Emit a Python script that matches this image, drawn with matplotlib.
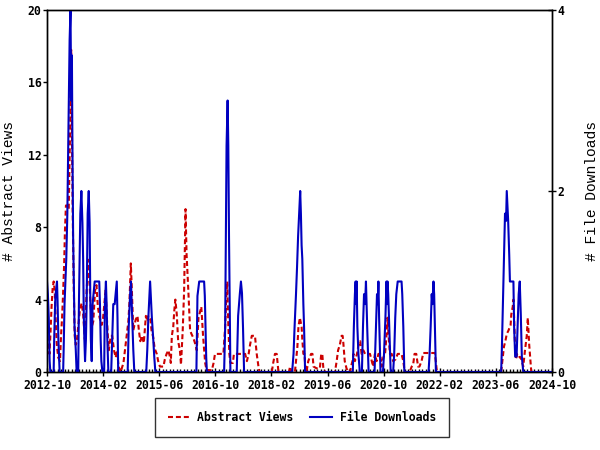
import matplotlib
matplotlib.use("Agg")
import matplotlib.pyplot as plt
from matplotlib.ticker import MultipleLocator

# x values are months counted from 2012-10
tick_labels = ["2012-10", "2014-02", "2015-06", "2016-10", "2018-02",
               "2019-06", "2020-10", "2022-02", "2023-06", "2024-10"]

view_month = [0, 0.4, 0.7, 1.0, 1.3, 1.6, 1.9, 2.2, 2.5, 2.8, 3.2, 3.7, 4.0, 4.3, 4.6, 4.9,
              5.1, 5.4, 5.8, 6.2, 6.6, 6.9, 7.1, 7.3, 7.6, 7.9, 8.2, 8.5,
              8.9, 9.4, 9.9, 10.3, 10.8, 11.3, 11.8, 12.1, 12.4, 12.8, 13.2, 13.7, 14.1,
              14.5, 15.0, 15.6, 16.0, 16.7, 17.2, 17.6, 18.2, 18.6, 19.1, 19.6, 20.0,
              20.4, 21.0, 21.8, 22.4, 22.9, 23.2, 23.5, 23.9, 24.2, 24.6, 25.3, 25.8,
              26.2, 26.6, 27.1,
              27.6, 28.2, 28.6, 28.9, 29.5, 29.8, 30.3, 30.7, 31.3, 31.7, 32.2, 33.2,
              33.6, 34.1, 34.6, 35.1, 35.3, 35.6, 36.0, 36.3, 36.6, 37.0, 37.4, 37.9,
              38.2, 38.7, 39.1, 39.5, 39.8, 40.3, 40.8, 41.2, 41.7, 42.2, 42.7, 43.2,
              44.0, 44.5, 45.1, 45.5, 47.0, 47.5, 47.9,
              48.8, 50.3, 50.8, 51.1, 51.4, 51.7, 52.0, 52.3, 53.0, 53.3, 56.5, 57.0,
              57.5, 57.9, 58.4, 59.3, 59.8, 60.3, 60.6, 64.1, 64.5, 65.0, 65.5, 66.0,
              69.0, 69.3, 69.7, 70.7, 71.0, 71.4, 71.7, 72.1, 72.6, 72.8, 73.1, 73.4,
              73.7, 74.0, 74.5, 75.3, 75.7, 76.0, 76.9, 77.8, 78.2, 78.5, 78.8, 79.3,
              82.1, 82.6, 83.0, 83.5, 84.0, 84.3, 84.5, 84.9, 85.4, 85.9, 86.4, 86.7,
              87.1, 87.4, 87.8, 88.4, 88.9, 89.3, 89.7, 90.2, 90.7, 91.5, 92.1, 93.0,
              93.5, 94.0, 94.5, 95.0,
              95.4, 95.9, 96.4, 96.8, 97.1, 97.4, 97.8, 98.3, 98.7, 99.4, 100.0, 101.1,
              101.6, 102.0, 103.4, 104.0, 104.4, 104.8, 105.3, 105.8, 106.2, 106.8,
              107.3, 110.6, 110.9, 111.2, 129.5,
              129.9, 130.3, 130.8, 131.1, 131.6, 132.2, 132.4, 132.8, 133.0, 133.2,
              133.4, 133.7, 134.1, 134.4, 134.8, 135.1, 135.4, 135.8, 136.3, 136.8,
              137.1, 137.5, 137.9, 138.1, 144]
views = [2.0, 1.5, 1.0, 2.2, 3.6, 4.6, 5.0, 4.5, 2.8, 1.5, 0.8, 0.6, 2.0, 3.0, 4.4, 6.0,
         7.7, 9.2, 9.2, 9.0, 13.5, 17.8, 13.5, 9.2, 5.0, 2.0, 1.5, 1.7,
         2.5, 3.5, 3.8, 3.2, 1.8, 4.5, 6.2, 5.0, 3.8, 2.5, 2.8, 4.5, 4.8,
         3.6, 3.0, 2.6, 3.0, 4.5, 2.5, 1.2, 2.0, 2.0, 1.2, 0.8, 1.2,
         0.3, 0, 0.5, 1.5, 2.3, 2.8, 3.8, 6.0, 4.5, 2.3, 2.9, 3.1,
         2.3, 1.7, 2.0,
         1.6, 3.1, 2.8, 3.1, 2.9, 2.3, 1.9, 1.3, 1.0, 0.6, 0.3, 0.3,
         0.7, 1.0, 1.2, 0.8, 0.5, 2.0, 2.5, 3.4, 4.0, 3.2, 1.7, 1.2,
         0.4, 2.3, 4.5, 9.0, 6.5, 4.5, 2.3, 2.1, 1.9, 1.6, 1.2, 3.0,
         3.6, 2.0, 0.5, 0.1, 0.1, 0.5, 1.0,
         1.0, 1.0, 2.5, 4.0, 5.0, 2.6, 1.0, 0.5, 0.5, 1.0, 1.0, 0.6,
         1.0, 1.5, 2.0, 2.0, 1.0, 0.3, 0, 0, 0.5, 1.0, 1.0, 0,
         0, 0.3, 0, 0, 0.6, 1.4, 2.5, 3.0, 2.5, 1.8, 1.0, 1.0,
         0.2, 0, 0.6, 1.0, 1.0, 0.3, 0.2, 0.2, 1.0, 1.0, 0.2, 0,
         0, 0.6, 1.2, 1.5, 2.0, 2.0, 1.6, 0.6, 0.2, 0, 0, 0.3,
         0.6, 1.0, 0.6, 1.0, 1.6, 1.7, 1.0, 1.2, 1.0, 1.0, 1.0, 0.3,
         1.0, 0.6, 1.0, 1.0,
         0.3, 0.8, 1.0, 2.0, 3.0, 2.0, 1.0, 1.0, 0.6, 0.7, 1.0, 1.0,
         0.6, 0, 0, 0.3, 0.4, 1.0, 1.0, 0.3, 0.3, 0.6,
         1.05, 1.05, 0.5, 0, 0,
         0.7, 1.4, 1.8, 2.1, 2.3, 2.6, 3.2, 3.6, 4.0, 3.0,
         1.8, 0.7, 1.0, 1.0, 0.8, 0.8, 0.6, 0.3, 1.2, 2.0,
         3.0, 1.5, 0.5, 0, 0]

dl_month = [0, 0.25, 0.5, 0.75, 0.95, 1.9, 2.05, 2.2, 2.4, 2.85, 3.0, 3.1, 3.25, 3.5,
            3.6, 4.6, 4.75, 5.0, 5.5, 5.8, 6.0, 6.25, 6.45, 6.7, 6.9, 7.1, 7.25, 7.45,
            7.85, 8.2, 8.45,
            8.9, 9.1, 9.5, 9.8, 10.1, 10.3, 10.5, 10.65, 10.85, 11.1, 11.3, 11.6, 11.9,
            12.15, 12.35, 12.5, 12.75, 13.0, 13.6, 14.9, 15.1, 15.3, 15.5, 15.8, 16.3,
            16.5, 16.8, 17.0, 17.2, 17.4, 17.5, 18.3, 18.5, 18.9, 19.3, 19.9, 20.1,
            20.3, 23.0, 23.3, 23.7, 23.95, 24.3, 24.6, 24.9,
            28.3, 28.6, 28.9, 29.4, 29.6, 29.9, 30.3, 30.6, 30.9, 42.6, 42.9, 43.4,
            44.8, 45.0, 45.2, 45.4, 45.6,
            50.5, 50.8, 51.0, 51.2, 51.5, 51.7, 51.9, 52.3, 54.1, 54.5, 55.0, 55.3,
            55.6, 55.9, 56.2,
            69.9, 70.3, 70.6, 71.0, 71.3, 71.6, 71.9, 72.2, 72.4, 72.6, 72.8, 73.1,
            73.3, 73.6,
            87.2, 87.5, 87.8, 88.0, 88.15, 88.3, 88.5, 88.8, 89.2,
            89.8, 90.1, 90.4, 90.7, 90.95, 91.3, 91.7,
            93.4, 93.8, 94.1, 94.3, 94.5, 94.7, 94.9, 95.1,
            95.8, 96.1, 96.5, 96.8, 97.0, 97.1, 97.3, 97.6, 98.0,
            98.7, 99.0, 99.3, 99.6, 100.0, 101.1, 101.3, 101.6, 101.9,
            108.8, 109.1, 109.4, 109.7, 109.9, 110.2, 110.4, 110.6, 110.9,
            129.5, 129.7, 130.0, 130.3, 130.6, 130.9, 131.1, 131.3, 131.5, 131.8,
            132.0, 133.0, 133.2, 133.5, 133.9, 134.2, 134.5, 134.8, 135.1, 135.4,
            135.8, 144]
downloads = [1.0, 0.86, 0.6, 0.12, 0, 0, 0.36, 0.6, 0.84, 1.0, 0.8, 0.6, 0.36, 0.12,
             0, 0, 0.25, 0.75, 1.25, 1.75, 2.33, 3.0, 3.67, 4.0, 3.0, 3.5, 2.5, 1.5,
             0.5, 0.25, 0,
             0, 0.75, 1.75, 2.0, 1.65, 1.25, 0.6, 0.36, 0.12, 0.36, 0.75, 1.75, 2.0,
             1.65, 0.8, 0.36, 0.12, 0.75, 1.0, 1.0, 0.75, 0.36, 0.12, 0, 0,
             0.75, 1.0, 0.75, 0.36, 0.12, 0, 0, 0.25, 0.75, 0.75, 1.0, 0.6,
             0, 0, 0.5, 0.86, 1.0, 0.6, 0.25, 0,
             0, 0.25, 0.6, 1.0, 0.84, 0.6, 0.36, 0.16, 0, 0, 0.84, 1.0,
             1.0, 0.84, 0.5, 0.16, 0,
             0, 0.48, 1.5, 2.5, 3.0, 2.5, 1.5, 0, 0, 0.62, 0.87, 1.0,
             0.87, 0.48, 0,
             0, 0.2, 0.5, 0.86, 1.16, 1.5, 1.75, 2.0, 1.75, 1.4, 1.25, 0.75,
             0.5, 0,
             0, 0.5, 0.86, 1.0, 0.75, 1.0, 0.5, 0.2, 0,
             0, 0.5, 0.86, 0.75, 1.0, 0.5, 0,
             0, 0.5, 0.86, 0.75, 1.0, 0.6, 0.3, 0,
             0, 0.2, 0.6, 1.0, 0.75, 1.0, 0.86, 0.5, 0,
             0, 0.2, 0.6, 0.86, 1.0, 1.0, 0.86, 0.5, 0,
             0, 0.2, 0.5, 0.86, 0.75, 1.0, 0.86, 0.5, 0,
             0, 0.25, 0.75, 1.25, 1.75, 1.67, 2.0, 1.84, 1.67, 1.3,
             1.0, 1.0, 0.5, 0.17, 0.17, 0.5, 0.86, 1.0, 0.64, 0.17,
             0, 0]

tick_pos = [(int(t[:4]) - 2012) * 12 + int(t[5:]) - 10 for t in tick_labels]

red = "#cc0000"
blue = "#0000c0"
mono = "DejaVu Sans Mono"

fig = plt.figure(figsize=(6, 4.5), dpi=100)
ax = fig.add_axes([47 / 600, 1 - 372 / 450, 505 / 600, 362 / 450])
ax2 = ax.twinx()

l1, = ax.plot(view_month, views, color=red, lw=1.5, ls=(0, (2.4, 1.4)),
              label="Abstract Views")
l2, = ax2.plot(dl_month, downloads, color=blue, lw=1.5, label="File Downloads")

ax.set_xlim(0, 144)
ax.set_ylim(0, 20)
ax2.set_ylim(0, 4)
ax.set_xticks(tick_pos)
ax.set_xticklabels(tick_labels)
ax.xaxis.set_minor_locator(MultipleLocator(1))
ax.set_yticks([0, 4, 8, 12, 16, 20])
ax2.set_yticks([0, 2, 4])

for a in (ax, ax2):
    for s in a.spines.values():
        s.set_linewidth(1)
    for lab in a.get_xticklabels() + a.get_yticklabels():
        lab.set_fontfamily(mono)
        lab.set_fontweight("bold")
        lab.set_fontsize(8.3)

ax.tick_params(axis="x", which="major", direction="inout", length=6, width=1, pad=2)
ax.tick_params(axis="x", which="minor", direction="in", length=2.5, width=1)
ax.tick_params(axis="y", which="major", direction="out", length=3, width=1, pad=1)
ax2.tick_params(axis="y", which="major", direction="inout", length=6, width=1, pad=1)

ax.set_ylabel("# Abstract Views", family="Liberation Mono", fontsize=10.5)
ax2.set_ylabel("# File Downloads", family="Liberation Mono", fontsize=10.5,
               rotation=90)
ax.yaxis.set_label_coords(-0.062, 0.5)
ax2.yaxis.set_label_coords(1.066, 0.5)

leg = fig.legend(handles=[l1, l2], loc="center", bbox_to_anchor=(0.503, 0.072),
                 ncol=2, frameon=True, fancybox=False, shadow=False,
                 prop={"family": mono, "weight": "bold", "size": 8.3},
                 handlelength=1.9, handletextpad=0.7, columnspacing=1.4,
                 borderpad=1.1, borderaxespad=0)
leg.get_frame().set_edgecolor("black")
leg.get_frame().set_linewidth(1)

fig.savefig("out.png", dpi=100)
